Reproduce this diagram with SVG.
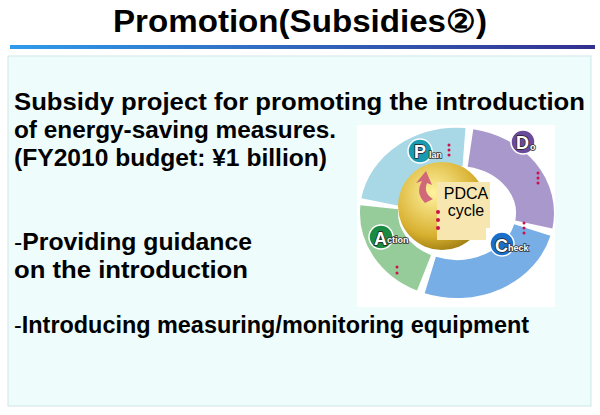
<svg xmlns="http://www.w3.org/2000/svg" width="600" height="415" viewBox="0 0 600 415">
<defs>
<linearGradient id="bar" x1="0" x2="1"><stop offset="0" stop-color="#2f9bea"/><stop offset="1" stop-color="#33308f"/></linearGradient>
<radialGradient id="gold" cx="0.4" cy="0.35" r="0.7"><stop offset="0" stop-color="#fff3a0"/><stop offset="0.7" stop-color="#d8b030"/><stop offset="1" stop-color="#9a7a10"/></radialGradient>
<style>
.t{font-family:"Liberation Sans",Arial,sans-serif;font-weight:bold;font-size:24px;fill:#000}
.seg{fill:none;stroke-width:38}
.l{font-family:"Liberation Sans",Arial,sans-serif;font-weight:bold;fill:#fff;stroke:#222;stroke-width:1.5;paint-order:stroke}
.s{font-family:"Liberation Sans",Arial,sans-serif;font-weight:bold;font-size:9px;fill:#fff;stroke:#333;stroke-width:1.6;paint-order:stroke}
.dot{fill:#d0104a}
</style>
</defs>
<rect width="600" height="415" fill="#fff"/>
<text x="113" y="32" textLength="374" lengthAdjust="spacingAndGlyphs" font-family="Liberation Sans,Arial,sans-serif" font-weight="bold" font-size="31" fill="#000">Promotion(Subsidies②)</text>
<rect x="10" y="45" width="585" height="4" fill="url(#bar)"/>
<rect x="8" y="56" width="583" height="350" fill="#eefcfc" stroke="#cfe6e6"/>
<g id="text">
<text class="t" x="14" y="110" textLength="571" lengthAdjust="spacingAndGlyphs">Subsidy project for promoting the introduction</text>
<text class="t" x="14" y="138" textLength="322" lengthAdjust="spacingAndGlyphs">of energy-saving measures.</text>
<text class="t" x="14" y="166" textLength="313" lengthAdjust="spacingAndGlyphs">(FY2010 budget: ¥1 billion)</text>
<text class="t" x="14" y="250" textLength="238" lengthAdjust="spacingAndGlyphs"><tspan font-weight="normal">-</tspan>Providing guidance</text>
<text class="t" x="14" y="278" textLength="234" lengthAdjust="spacingAndGlyphs">on the introduction</text>
<text class="t" x="14" y="333" textLength="515" lengthAdjust="spacingAndGlyphs"><tspan font-weight="normal">-</tspan>Introducing measuring/monitoring equipment</text>
</g>
<g id="pdca">
<rect x="357" y="125" width="198" height="182" fill="#fff"/>
<path class="seg" stroke="#a8d8e6" d="M380,202 A78,66 0 0 1 464,147"/>
<path class="seg" stroke="#a898cc" d="M470.5,148 A78,66 0 0 1 533.8,224.5"/>
<path class="seg" stroke="#78aee6" d="M532.3,230 A78,66 0 0 1 430.3,275"/>
<path class="seg" stroke="#96cc9a" d="M424,272.8 A78,66 0 0 1 379.3,207.2"/>
<circle cx="442" cy="206" r="44" fill="url(#gold)"/>
<path d="M437,182 H490 V228 H486 V240 H437 Z" fill="#f8e6b0"/>
<text x="466" y="199" text-anchor="middle" font-family="Liberation Sans,Arial,sans-serif" font-size="16" fill="#000">PDCA</text>
<text x="466" y="216" text-anchor="middle" font-family="Liberation Sans,Arial,sans-serif" font-size="16" fill="#000">cycle</text>
<path d="M425,203 q-10,-10 -3,-22 l-6,2 l10,-12 l6,14 l-5,-2 q-4,10 6,16 z" fill="#d06878"/>
<g id="P"><circle cx="420" cy="151" r="12" fill="#1a9ab0" stroke="#fff" stroke-width="1.5"/><text class="l" x="414" y="158" font-size="18">P</text><text class="s" x="429" y="158">lan</text></g>
<g id="D"><circle cx="523" cy="142" r="12" fill="#6a4a9a" stroke="#fff" stroke-width="1.5"/><text class="l" x="516" y="149" font-size="18">D</text><text class="s" x="530" y="150">o</text></g>
<g id="C"><circle cx="502" cy="244" r="12" fill="#1a70c8" stroke="#fff" stroke-width="1.5"/><text class="l" x="495" y="252" font-size="18">C</text><text class="s" x="508" y="251">heck</text></g>
<g id="A"><circle cx="381" cy="237" r="12" fill="#1a8a40" stroke="#fff" stroke-width="1.5"/><text class="l" x="374" y="245" font-size="18">A</text><text class="s" x="387" y="243">ction</text></g>
<g class="dot"><circle cx="449" cy="145" r="1.5"/><circle cx="449" cy="150" r="1.5"/><circle cx="449" cy="155" r="1.5"/>
<circle cx="538" cy="173" r="1.5"/><circle cx="538" cy="178" r="1.5"/><circle cx="538" cy="183" r="1.5"/>
<circle cx="524" cy="223" r="1.5"/><circle cx="524" cy="228" r="1.5"/><circle cx="524" cy="233" r="1.5"/>
<circle cx="438" cy="212" r="2"/><circle cx="438" cy="220" r="2"/><circle cx="438" cy="228" r="2"/>
<circle cx="397" cy="267" r="1.5"/><circle cx="397" cy="273" r="1.5"/></g>
</g>
</svg>
